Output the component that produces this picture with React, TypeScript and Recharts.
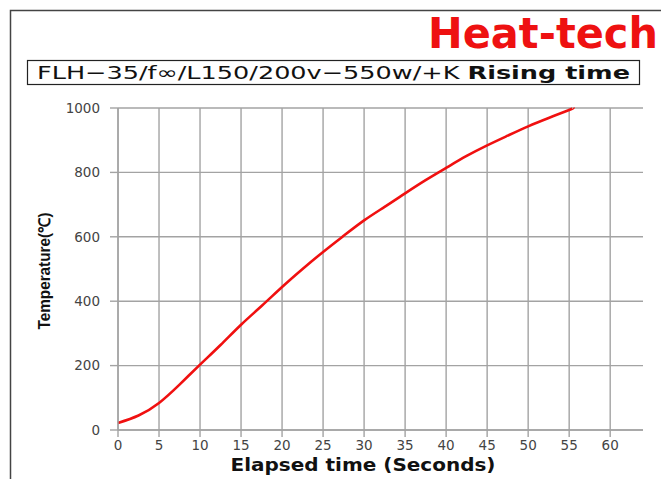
import { LineChart, Line, XAxis, YAxis, CartesianGrid } from "recharts"

const seconds = [0, 2.5, 5, 7.5, 10, 12.5, 15, 17.5, 20, 22.5, 25, 27.5, 30, 32.5, 35, 37.5, 40, 42.5, 45, 47.5, 50, 52.5, 55, 55.5]
const temperature = [22, 45, 84, 141, 203, 264, 327, 385, 444, 500, 553, 603, 651, 693, 735, 776, 814, 851, 884, 914, 943, 969, 994, 1000]
const xTicks = [0, 5, 10, 15, 20, 25, 30, 35, 40, 45, 50, 55, 60]
const yTicks = [0, 200, 400, 600, 800, 1000]

const data = seconds.map((t, i) => ({ t, temp: temperature[i] }))

const gridColor = "#a3a3a3"
const tickStyle = { fontFamily: "DejaVu Sans", fontSize: 13.5, fill: "#444" }

export default function App() {
  return (
    <div style={{ position: "absolute", left: 0, top: 0, width: 661, height: 479, background: "#fff", overflow: "hidden" }}>
      <svg width={661} height={479} style={{ position: "absolute", left: 0, top: 0 }}>
        <path d="M10.5 479 L10.5 10.5 L661 10.5" fill="none" stroke="#444" strokeWidth={1.5} />
        <text x={428} y={48} fontFamily="DejaVu Sans" fontWeight="bold" fontSize={42} fill="#ee1111" textLength={230} lengthAdjust="spacingAndGlyphs">
          Heat-tech
        </text>
        <rect x={27.5} y={60.5} width={612} height={24} fill="#fff" stroke="#222" strokeWidth={1.2} />
        <text x={37} y={79} fontFamily="DejaVu Sans" fontSize={18} fill="#111" textLength={593} lengthAdjust="spacingAndGlyphs">
          <tspan>FLH−35/f∞/L150/200v−550w/+K </tspan>
          <tspan fontWeight="bold">Rising time</tspan>
        </text>
        <text x={363} y={471} textAnchor="middle" fontFamily="DejaVu Sans" fontWeight="bold" fontSize={18} fill="#111" textLength={265} lengthAdjust="spacingAndGlyphs">
          Elapsed time (Seconds)
        </text>
        <text x={0} y={0} transform="translate(50 271) rotate(-90)" textAnchor="middle" fontFamily="Liberation Sans Narrow, Liberation Sans" fontWeight="bold" fontSize={16} fill="#111" textLength={117} lengthAdjust="spacingAndGlyphs">
          Temperature(℃)
        </text>
      </svg>
      <div style={{ position: "absolute", left: 0, top: 0 }}>
        <LineChart width={661} height={479} data={data} margin={{ top: 108, right: 18, bottom: 19, left: 58 }}>
          <CartesianGrid stroke={gridColor} strokeWidth={1.4} horizontalValues={yTicks} verticalValues={xTicks} />
          <XAxis
            dataKey="t"
            type="number"
            domain={[0, 64]}
            ticks={xTicks}
            height={30}
            stroke={gridColor}
            strokeWidth={1.4}
            tickSize={7}
            tickMargin={3}
            tick={tickStyle}
            interval={0}
          />
          <YAxis
            type="number"
            domain={[0, 1000]}
            ticks={yTicks}
            width={60}
            stroke={gridColor}
            strokeWidth={1.4}
            tickSize={8}
            tickMargin={10}
            tick={tickStyle}
            interval={0}
          />
          <Line
            dataKey="temp"
            type="natural"
            stroke="#f01010"
            strokeWidth={2.6}
            dot={false}
            isAnimationActive={false}
          />
        </LineChart>
      </div>
    </div>
  )
}
